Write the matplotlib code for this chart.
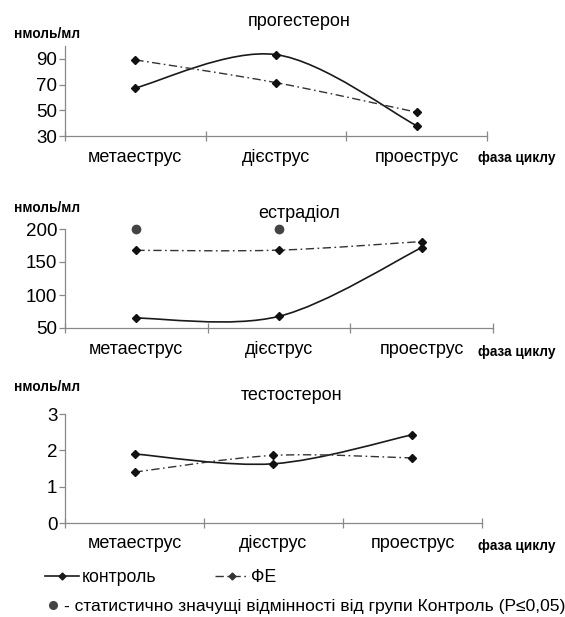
import numpy as np
import matplotlib.pyplot as plt
from matplotlib.path import Path
from matplotlib.patches import PathPatch
from matplotlib.lines import Line2D

plt.rcParams['font.family'] = ['Liberation Sans', 'DejaVu Sans']

# data
phases = ['метаеструс', 'дієструс', 'проеструс']
titles = ['прогестерон', 'естрадіол', 'тестостерон']

prog_control = [67.4, 93.3, 38.0]
prog_fe = [89.2, 71.5, 48.5]
estr_control = [65.0, 67.7, 171.8]
estr_fe = [167.7, 168.0, 181.0]
estr_signif = [200, 200, None]
test_control = [1.90, 1.63, 2.43]
test_fe = [1.40, 1.86, 1.79]

yticks = [[30, 50, 70, 90], [50, 100, 150, 200], [0, 1, 2, 3]]
ylims = [(30, 100), (50, 200), (0, 3)]
controls = [prog_control, estr_control, test_control]
fes = [prog_fe, estr_fe, test_fe]

W, H = 565, 617
# axes boxes in pixels: left, right, top, bottom
boxes = [(65, 487, 46, 136), (65, 493, 229, 328), (65, 482, 414, 523)]

fig = plt.figure(figsize=(W / 100, H / 100), dpi=100)

FE_STYLE = (0, (6, 2.5, 1.2, 2.5))


def smooth_path(xs, ys):
    # Catmull-Rom style smoothing as bezier curve
    pts = np.column_stack([xs, ys]).astype(float)
    n = len(pts)
    verts = [pts[0]]
    codes = [Path.MOVETO]
    for i in range(n - 1):
        p0 = pts[max(i - 1, 0)]
        p1 = pts[i]
        p2 = pts[i + 1]
        p3 = pts[min(i + 2, n - 1)]
        c1 = p1 + (p2 - p0) / 6
        c2 = p2 - (p3 - p1) / 6
        verts += [c1, c2, p2]
        codes += [Path.CURVE4] * 3
    return Path(verts, codes)


for k in range(3):
    l, r, t, b = boxes[k]
    ax = fig.add_axes([l / W, 1 - b / H, (r - l) / W, (b - t) / H])
    x = np.arange(len(phases)) + 0.5

    ax.add_patch(PathPatch(smooth_path(x, controls[k]), fill=False,
                           edgecolor='#1a1a1a', lw=1.2))
    ax.add_patch(PathPatch(smooth_path(x, fes[k]), fill=False,
                           edgecolor='#333333', lw=1.0, linestyle=FE_STYLE))
    ax.plot(x, controls[k], ls='none', marker='D', ms=3.8, color='#111111')
    ax.plot(x, fes[k], ls='none', marker='D', ms=3.8, color='#111111')

    if k == 1:
        sx = [xi for xi, v in zip(x, estr_signif) if v is not None]
        sv = [v for v in estr_signif if v is not None]
        ax.plot(sx, sv, ls='none', marker='o', ms=6, color='#444444',
                clip_on=False)

    ax.set_xlim(0, 3)
    ax.set_ylim(*ylims[k])
    ax.set_yticks(yticks[k])
    ax.set_xticks([0, 1, 2, 3])
    ax.set_xticklabels([])
    ax.set_xticks(x, minor=True)
    ax.set_xticklabels(phases, minor=True, fontsize=13)
    ax.tick_params(axis='x', which='minor', length=0, pad=9)
    ax.tick_params(axis='x', which='major', direction='inout', length=7,
                   color='#888888', width=0.9)
    ax.tick_params(axis='y', direction='out', length=4, color='#888888',
                   width=0.9, labelsize=13.5, pad=1.5)
    for s in ['top', 'right']:
        ax.spines[s].set_visible(False)
    for s in ['left', 'bottom']:
        ax.spines[s].set_color('#888888')
        ax.spines[s].set_linewidth(0.9)

# title / label positions in pixels
title_x = [299, 299, 292]
title_y = [22, 213, 395]
unit_y = [34, 208, 387]
phase_y = [158, 352, 546]
for k in range(3):
    fig.text(title_x[k] / W, 1 - title_y[k] / H, titles[k], fontsize=13,
             ha='center', va='center')
    fig.text(14 / W, 1 - unit_y[k] / H, 'нмоль/мл', fontsize=9.8,
             fontweight='bold', ha='left', va='center')
    fig.text(478 / W, 1 - phase_y[k] / H, 'фаза циклу', fontsize=9.8,
             fontweight='bold', ha='left', va='center')

h_control = Line2D([], [], color='#1a1a1a', lw=1.2, marker='D', ms=3.5)
h_fe = Line2D([], [], color='#333333', lw=1.0, ls=FE_STYLE, marker='D', ms=3.5)
fig.legend([h_control, h_fe], ['контроль', 'ФЕ'], ncol=2,
           loc='center left', bbox_to_anchor=(45 / W, 1 - 578 / H),
           frameon=False, fontsize=12.8, handlelength=1.9,
           handletextpad=0.15, columnspacing=3.3, borderpad=0,
           borderaxespad=0)
h_sig = Line2D([], [], ls='none', marker='o', ms=5.5, color='#444444')
fig.legend([h_sig], ['- статистично значущі відмінності від групи Контроль (P≤0,05)'],
           loc='center left', bbox_to_anchor=(46 / W, 1 - 606 / H),
           frameon=False, fontsize=12.6, handlelength=0.8, handletextpad=0.25,
           borderpad=0, borderaxespad=0)

fig.savefig('out.png', dpi=100)
